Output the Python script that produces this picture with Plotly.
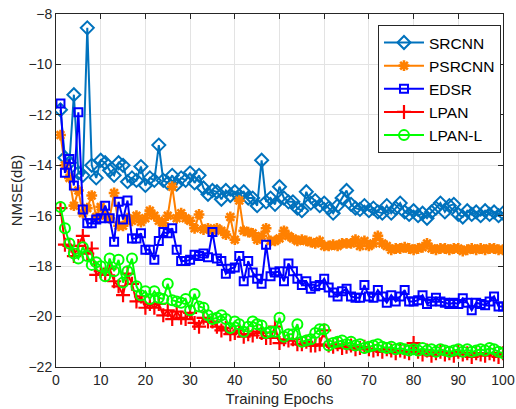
import plotly.graph_objects as go

epochs = list(range(1, 101))

srcnn = [-11.8, -13.7, -13.9, -11.2, -14.3, -14.4, -8.55, -14.0, -14.5, -13.8,
         -13.9, -14.2, -14.4, -13.9, -14.0, -14.65, -14.5, -14.6, -14.05, -14.8,
         -14.5, -14.6, -13.2, -14.6, -14.7, -14.4, -14.75, -14.5, -14.6, -14.3,
         -14.7, -14.4, -14.9, -15.15, -15.0, -15.05, -15.35, -15.0, -15.2, -15.05,
         -15.2, -15.05, -15.3, -15.3, -15.6, -13.8, -15.45, -15.3, -15.55, -14.85,
         -15.3, -15.45, -15.45, -15.7, -15.8, -15.05, -15.5, -15.4, -15.6, -15.5,
         -15.7, -15.9, -15.6, -15.3, -15.0, -15.55, -15.7, -15.75, -15.6, -15.8,
         -15.7, -15.85, -15.9, -15.6, -15.9, -15.7, -15.5, -15.85, -15.95, -15.8,
         -16.0, -15.9, -16.1, -15.85, -15.7, -15.5, -15.85, -15.6, -15.55, -15.95,
         -16.05, -15.8, -15.95, -15.85, -16.0, -15.8, -15.95, -15.85, -16.0, -15.9]

psrcnn = [-12.8, -14.0, -14.5, -15.6, -15.0, -15.9, -15.7, -15.2, -16.05, -15.65,
          -16.0, -16.1, -15.1, -16.4, -16.4, -16.1, -16.2, -16.0, -16.25, -16.1,
          -15.8, -16.0, -16.2, -16.3, -16.0, -14.85, -16.1, -15.9, -16.1, -16.2,
          -16.5, -15.95, -16.55, -16.5, -16.6, -16.5, -16.6, -16.75, -16.05, -16.95,
          -15.4, -16.6, -16.65, -16.7, -16.95, -16.8, -16.5, -17.0, -17.0, -16.9,
          -16.6, -16.8, -16.9, -17.0, -16.95, -17.0, -17.05, -17.1, -17.0, -17.2,
          -17.2, -17.15, -17.2, -17.1, -17.1, -17.1, -16.95, -17.2, -17.0, -17.2,
          -17.1, -16.8, -17.1, -17.2, -17.35, -17.3, -17.3, -17.25, -17.3, -17.35,
          -17.3, -17.25, -17.1, -17.3, -17.35, -17.3, -17.3, -17.35, -17.3, -17.3,
          -17.4, -17.35, -17.3, -17.35, -17.3, -17.35, -17.3, -17.3, -17.35, -17.35]

edsr = [-11.55, -14.3, -13.75, -14.8, -11.9, -15.75, -16.3, -16.3, -16.15, -16.1,
        -15.6, -16.1, -17.03, -15.45, -16.15, -15.4, -16.9, -16.9, -16.7, -17.35,
        -17.35, -17.75, -17.0, -16.65, -16.7, -16.5, -17.35, -17.8, -17.8, -17.75,
        -17.55, -17.6, -17.5, -17.65, -16.65, -17.7, -17.8, -18.3, -18.1, -18.05,
        -17.6, -18.6, -17.8, -18.25, -18.5, -18.7, -17.15, -18.4, -18.25, -18.2,
        -18.6, -17.9, -18.2, -18.5, -18.75, -18.6, -18.9, -18.8, -18.75, -18.5,
        -18.85, -19.05, -19.2, -19.0, -18.9, -19.2, -19.25, -19.25, -18.75, -19.2,
        -19.25, -18.95, -19.2, -19.45, -19.15, -19.4, -19.2, -18.95, -19.4, -19.4,
        -19.35, -19.15, -19.5, -19.4, -19.25, -19.4, -19.45, -19.5, -19.45, -19.5,
        -19.27, -19.45, -19.75, -19.45, -19.5, -19.55, -19.4, -19.2, -19.6, -19.6]

lpan = [-15.7, -17.15, -17.2, -17.6, -17.2, -16.8, -17.5, -17.3, -18.35, -18.2,
        -18.35, -18.1, -18.6, -18.8, -19.15, -18.3, -18.7, -19.4, -19.2, -19.65,
        -19.5, -19.65, -19.5, -19.95, -19.75, -20.1, -19.8, -20.05, -20.1, -19.85,
        -20.25, -20.4, -20.05, -20.2, -20.2, -20.4, -20.55, -20.45, -20.7, -20.65,
        -20.55, -20.8, -20.7, -20.75, -20.6, -20.65, -20.85, -20.85, -20.4, -21.05,
        -20.9, -20.95, -20.9, -21.1, -21.1, -21.0, -21.15, -21.15, -21.1, -20.55,
        -21.15, -21.2, -21.1, -21.25, -21.2, -21.15, -21.3, -21.25, -21.2, -21.3,
        -21.35, -21.3, -21.4, -21.3, -21.35, -21.45, -21.35, -21.4, -21.45, -21.05,
        -21.4, -21.5, -21.35, -21.55, -21.45, -21.4, -21.5, -21.45, -21.55, -21.4,
        -21.5, -21.45, -21.6, -21.45, -21.5, -21.55, -21.45, -21.5, -21.6, -21.45]

lpan_l = [-15.65, -16.5, -17.1, -17.5, -17.7, -17.25, -17.6, -17.95, -17.85, -18.0,
          -18.4, -17.7, -18.2, -17.75, -18.65, -18.2, -17.7, -18.8, -19.15, -19.0,
          -19.3, -19.0, -19.25, -19.3, -18.7, -19.35, -19.4, -19.45, -19.3, -19.75,
          -19.1, -19.6, -19.65, -19.95, -20.1, -20.05, -19.95, -20.1, -20.45, -20.2,
          -20.3, -20.6, -20.4, -20.2, -20.3, -20.35, -20.65, -20.6, -20.6, -20.05,
          -20.8, -20.7, -20.7, -20.3, -21.0, -20.95, -20.9, -20.65, -20.5, -20.5,
          -21.15, -21.05, -21.0, -20.95, -21.1, -21.0, -21.15, -21.1, -21.25, -21.2,
          -21.15, -21.1, -21.2, -21.25, -21.2, -21.3, -21.25, -21.3, -21.35, -21.3,
          -21.35, -21.25, -21.35, -21.3, -21.4, -21.3, -21.35, -21.4, -21.35, -21.3,
          -21.4, -21.3, -21.4, -21.35, -21.3, -21.35, -21.25, -21.3, -21.4, -21.45]

names = ["SRCNN", "PSRCNN", "EDSR", "LPAN", "LPAN-L"]
series = [srcnn, psrcnn, edsr, lpan, lpan_l]
colors = ["#0072BD", "#FF8000", "#0000FF", "#FF0000", "#00FF00"]
symbols = ["diamond-open", "asterisk-open", "square-open", "cross-thin-open", "circle-open"]
sizes = [10, 9, 8, 10, 10]
mwidths = [2, 2.6, 2, 2.2, 2]

fig = go.Figure()
for name, ys, c, s, sz, mw in zip(names, series, colors, symbols, sizes, mwidths):
    fig.add_trace(go.Scatter(
        x=epochs, y=ys, name=name, mode="lines+markers",
        line=dict(color=c, width=2),
        marker=dict(symbol=s, size=sz, color=c, line=dict(color=c, width=mw)),
    ))

axis_common = dict(
    showline=True, linecolor="#262626", linewidth=1, mirror="ticks",
    ticks="inside", ticklen=5, tickcolor="#262626", automargin=False,
    showgrid=True, gridcolor="#E3E3E3", gridwidth=1, zeroline=False,
    tickfont=dict(family="Liberation Sans, Arial", size=14, color="#262626"),
)

fig.update_layout(
    width=516, height=409,
    margin=dict(l=56, r=13, t=14, b=42),
    paper_bgcolor="white", plot_bgcolor="white",
    font=dict(family="Liberation Sans, Arial", size=14, color="#262626"),
    xaxis=dict(range=[0, 100], tickvals=list(range(0, 101, 10)),
               title=dict(text="Training Epochs", standoff=6,
                          font=dict(size=15)), **axis_common),
    yaxis=dict(range=[-22, -8], tickvals=list(range(-22, -7, 2)),
               title=dict(text="NMSE(dB)", standoff=2,
                          font=dict(size=15)), **axis_common),
    legend=dict(x=0.9955, y=0.969, xanchor="right", yanchor="top",
                bgcolor="white", bordercolor="#262626", borderwidth=1,
                font=dict(family="Liberation Sans, Arial", size=15.5, color="black"),
                tracegroupgap=0, itemwidth=40),
    showlegend=True,
)

fig.write_html("out.html")
